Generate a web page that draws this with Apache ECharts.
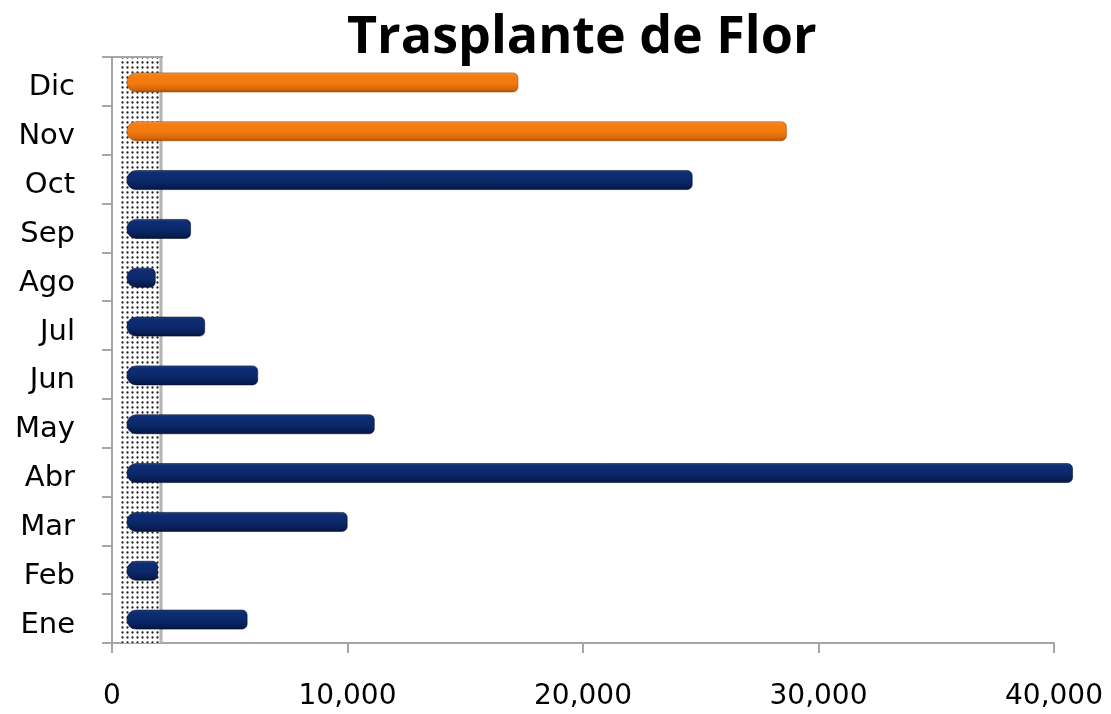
<!DOCTYPE html>
<html>
<head>
<meta charset="utf-8">
<script src="https://cdn.jsdelivr.net/npm/echarts@6/dist/echarts.min.js"></script>
<style>
  html, body { margin: 0; padding: 0; background: #ffffff; }
  #chart { width: 1111px; height: 714px; }
</style>
</head>
<body>
<div id="chart"></div>
<script>
// Monthly flower transplants
const months = ['Ene', 'Feb', 'Mar', 'Abr', 'May', 'Jun', 'Jul', 'Ago', 'Sep', 'Oct', 'Nov', 'Dic'];
const plantas = [5100, 1300, 9350, 40150, 10500, 5550, 3300, 1200, 2700, 24000, 28000, 16600];
// months drawn in orange instead of navy
const mesesNaranja = ['Nov', 'Dic'];
const xTicks = [0, 10000, 20000, 30000, 40000];

const chart = echarts.init(document.getElementById('chart'));

// dotted texture for the side wall
function wallPattern() {
  const c = document.createElement('canvas');
  c.width = 5; c.height = 5;
  const g = c.getContext('2d');
  g.fillStyle = '#ffffff';
  g.fillRect(0, 0, 5, 5);
  g.fillStyle = '#1e1e1e';
  g.beginPath();
  g.arc(2.5, 2.5, 1.15, 0, Math.PI * 2);
  g.fill();
  return c;
}
const wallImg = wallPattern();

const navy = new echarts.graphic.LinearGradient(0, 0, 0, 1, [
  { offset: 0, color: '#2b4a8f' },
  { offset: 0.12, color: '#0f2d74' },
  { offset: 0.55, color: '#0b2869' },
  { offset: 0.85, color: '#071d52' },
  { offset: 1, color: '#04133a' }
]);
const orange = new echarts.graphic.LinearGradient(0, 0, 0, 1, [
  { offset: 0, color: '#f8a35a' },
  { offset: 0.12, color: '#f57e14' },
  { offset: 0.55, color: '#f27a0e' },
  { offset: 0.85, color: '#d86608' },
  { offset: 1, color: '#a94d02' }
]);

const DEPTH = 15;   // horizontal 3D shift of the bars
const BAR_H = 19;

const axisGray = '#a6a6a6';
const fmt = v => v.toLocaleString('en-US');

chart.setOption({
  backgroundColor: '#ffffff',
  animation: false,
  title: {
    text: 'Trasplante de Flor',
    left: 342,
    top: 7,
    textStyle: {
      fontFamily: 'Open Sans',
      fontWeight: 'bold',
      fontSize: 52,
      color: '#000000'
    }
  },
  grid: { left: 112, right: 57, top: 57, bottom: 71, containLabel: false },
  xAxis: {
    type: 'value',
    min: xTicks[0],
    max: xTicks[xTicks.length - 1],
    interval: xTicks[1] - xTicks[0],
    axisLine: { show: true, lineStyle: { color: axisGray, width: 2 } },
    axisTick: { show: true, length: 10, lineStyle: { color: axisGray, width: 2 } },
    splitLine: { show: false },
    axisLabel: {
      formatter: fmt,
      fontFamily: 'DejaVu Sans',
      fontSize: 28,
      color: '#000000',
      margin: 40
    }
  },
  yAxis: {
    type: 'category',
    data: months,
    axisLine: { show: true, lineStyle: { color: axisGray, width: 2 } },
    axisTick: { show: true, length: 10, lineStyle: { color: axisGray, width: 2 } },
    axisLabel: {
      formatter: '{m|{value}}',
      margin: 37,
      rich: {
        m: {
          fontFamily: 'DejaVu Sans',
          fontSize: 29,
          color: '#000000',
          padding: [13, 0, 0, 0]
        }
      }
    }
  },
  series: [
    {
      // textured side wall next to the category axis
      type: 'custom',
      silent: true,
      z: 1,
      data: [[0, 0]],
      renderItem: function (params, api) {
        const cs = params.coordSys;
        const left = api.coord([0, 0])[0];
        return {
          type: 'group',
          children: [
            {
              type: 'rect',
              shape: { x: left + 9, y: cs.y, width: 39, height: cs.height },
              style: { fill: { image: wallImg, repeat: 'repeat' } }
            },
            {
              type: 'line',
              shape: { x1: left + 49, y1: cs.y, x2: left + 49, y2: cs.y + cs.height },
              style: { stroke: '#b4b4b4', lineWidth: 3 }
            },
            {
              type: 'line',
              shape: { x1: left, y1: cs.y, x2: left + 51, y2: cs.y },
              style: { stroke: axisGray, lineWidth: 2 }
            }
          ]
        };
      }
    },
    {
      type: 'custom',
      z: 2,
      encode: { x: 0, y: 1 },
      data: months.map((m, i) => [plantas[i], i]),
      renderItem: function (params, api) {
        const i = api.value(1);
        const start = api.coord([0, i]);
        const end = api.coord([api.value(0), i]);
        const x0 = start[0] + DEPTH;
        const x1 = end[0] + DEPTH;
        const isOrange = mesesNaranja.indexOf(months[i]) >= 0;
        return {
          type: 'rect',
          shape: {
            x: x0,
            y: start[1] - BAR_H / 2 + 1,
            width: Math.max(x1 - x0, 10),
            height: BAR_H,
            r: [9, 5, 5, 9]
          },
          style: {
            fill: isOrange ? orange : navy,
            stroke: isOrange ? '#9c4a05' : '#03102f',
            lineWidth: 0.6
          }
        };
      }
    }
  ]
});
</script>
</body>
</html>
